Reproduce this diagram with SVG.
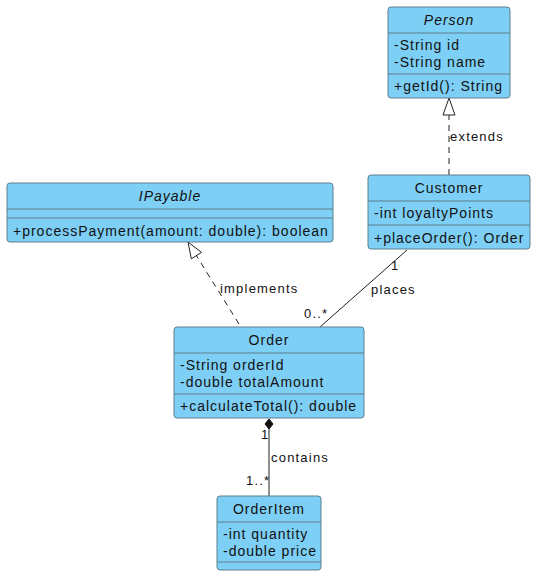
<svg xmlns="http://www.w3.org/2000/svg" width="545" height="585" viewBox="0 0 545 585">
<style>
.box{fill:#7ecff5;stroke:#5f7f8f;stroke-width:1}
.sep{stroke:#5f7f8f;stroke-width:1}
.t{font-family:"Liberation Sans",Arial,sans-serif;font-size:14px;letter-spacing:1px;fill:#111}
.c{text-anchor:middle}
.i{font-style:italic}
.lbl{font-family:"Liberation Sans",Arial,sans-serif;font-size:13px;letter-spacing:1.2px;fill:#111}
.ln{stroke:#222;stroke-width:1;fill:none}
.dash{stroke-dasharray:6,5}
</style>
<rect width="545" height="585" fill="#ffffff"/>
<g id="connectors">
  <g id="extends">
    <line class="ln dash" x1="449" y1="175" x2="449" y2="115"/>
    <polygon points="449,98 443,115 455,115" fill="#ffffff" stroke="#222"/>
    <text class="lbl" x="450" y="141">extends</text>
  </g>
  <g id="implements">
    <line class="ln dash" x1="239" y1="324" x2="196" y2="255"/>
    <polygon points="188,242 201.5,252.4 191.3,258.8" fill="#ffffff" stroke="#222"/>
    <text class="lbl" x="220" y="293">implements</text>
  </g>
  <g id="places">
    <line class="ln" x1="407" y1="250" x2="320" y2="327"/>
    <text class="lbl" x="391" y="270">1</text>
    <text class="lbl" x="371" y="294">places</text>
    <text class="lbl" x="304" y="318">0..*</text>
  </g>
  <g id="contains">
    <line class="ln" x1="269" y1="429" x2="269" y2="496"/>
    <polygon points="269,419 273,424 269,429 265,424" fill="#111" stroke="#111"/>
    <text class="lbl" x="261" y="439">1</text>
    <text class="lbl" x="271" y="462">contains</text>
    <text class="lbl" x="246" y="485">1..*</text>
  </g>
</g>
<g id="Person">
  <rect class="box" x="388" y="7" width="122" height="91" rx="3"/>
  <line class="sep" x1="388" y1="33" x2="510" y2="33"/>
  <line class="sep" x1="388" y1="74" x2="510" y2="74"/>
  <text class="t c i" x="449" y="25">Person</text>
  <text class="t" x="394" y="50">-String id</text>
  <text class="t" x="394" y="67">-String name</text>
  <text class="t" x="394" y="91">+getId(): String</text>
</g>
<g id="Customer">
  <rect class="box" x="368" y="175" width="162" height="74" rx="3"/>
  <line class="sep" x1="368" y1="201" x2="530" y2="201"/>
  <line class="sep" x1="368" y1="225" x2="530" y2="225"/>
  <text class="t c" x="449" y="193">Customer</text>
  <text class="t" x="374" y="218">-int loyaltyPoints</text>
  <text class="t" x="374" y="243">+placeOrder(): Order</text>
</g>
<g id="IPayable">
  <rect class="box" x="7" y="183" width="326" height="59" rx="3"/>
  <line class="sep" x1="7" y1="209" x2="333" y2="209"/>
  <line class="sep" x1="7" y1="218" x2="333" y2="218"/>
  <text class="t c i" x="170" y="201">IPayable</text>
  <text class="t" x="13" y="236">+processPayment(amount: double): boolean</text>
</g>
<g id="Order">
  <rect class="box" x="174" y="327" width="190" height="91" rx="3"/>
  <line class="sep" x1="174" y1="353" x2="364" y2="353"/>
  <line class="sep" x1="174" y1="394" x2="364" y2="394"/>
  <text class="t c" x="269" y="345">Order</text>
  <text class="t" x="180" y="370">-String orderId</text>
  <text class="t" x="180" y="387">-double totalAmount</text>
  <text class="t" x="180" y="411">+calculateTotal(): double</text>
</g>
<g id="OrderItem">
  <rect class="box" x="217" y="496" width="104" height="74" rx="3"/>
  <line class="sep" x1="217" y1="522" x2="321" y2="522"/>
  <line class="sep" x1="217" y1="562" x2="321" y2="562"/>
  <text class="t c" x="269" y="514">OrderItem</text>
  <text class="t" x="223" y="539">-int quantity</text>
  <text class="t" x="223" y="556">-double price</text>
</g>
</svg>
